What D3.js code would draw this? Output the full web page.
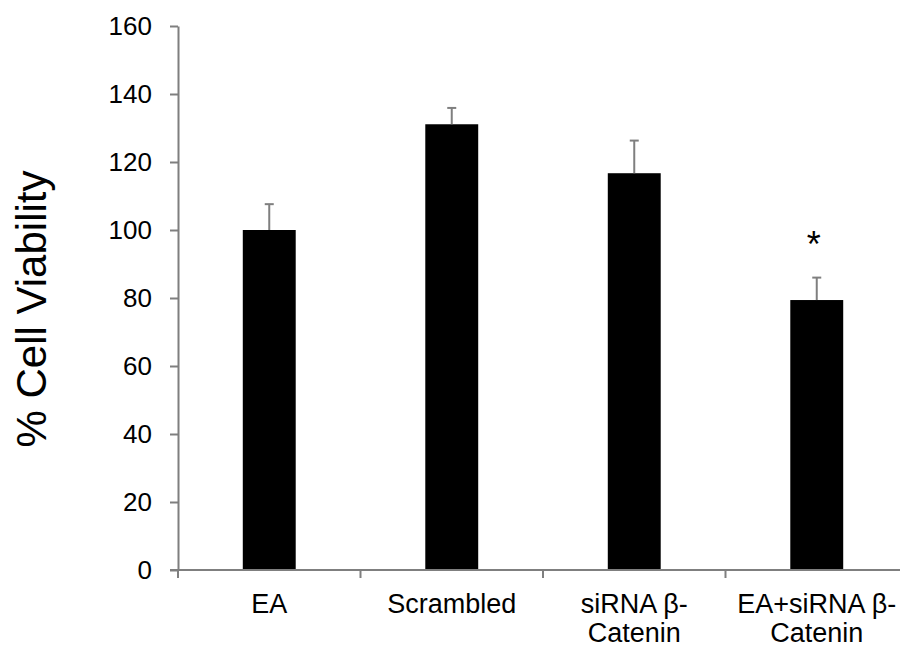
<!DOCTYPE html>
<html>
<head>
<meta charset="utf-8">
<script src="https://cdn.jsdelivr.net/npm/d3@7"></script>
<style>
  body { margin: 0; background: #fff; }
  text { font-family: "Liberation Sans", Arial, sans-serif; fill: #000; }
</style>
</head>
<body>
<div id="chart"></div>
<script>
const categories = ['EA', 'Scrambled', 'siRNA β-\nCatenin', 'EA+siRNA β-\nCatenin'];
const values = [100, 131.1, 116.7, 79.4];
const errors = [7.6, 4.8, 9.6, 6.6];
const significant = [false, false, false, true];
const yTicks = [0, 20, 40, 60, 80, 100, 120, 140, 160];

const width = 900;
const height = 646;
const axisColor = '#7f7f7f';

const svg = d3.select('#chart')
  .append('svg')
  .attr('width', width)
  .attr('height', height)
  .attr('viewBox', [0, 0, width, height]);

const x = d3.scaleBand()
  .domain(categories)
  .range([178, 908]);

const y = d3.scaleLinear()
  .domain([0, 160])
  .range([570, 26]);

const barW = x.bandwidth() * 0.29;
const cx = d => x(d) + x.bandwidth() / 2;

// bars
svg.selectAll('rect.bar')
  .data(categories)
  .enter()
  .append('rect')
  .attr('class', 'bar')
  .attr('x', d => cx(d) - barW / 2)
  .attr('y', (d, i) => y(values[i]))
  .attr('width', barW)
  .attr('height', (d, i) => y(0) - y(values[i]))
  .attr('fill', '#000');

// error bars (upper only)
const err = svg.selectAll('g.err')
  .data(categories)
  .enter()
  .append('g')
  .attr('class', 'err')
  .attr('stroke', axisColor)
  .attr('stroke-width', 2);
err.append('line')
  .attr('x1', cx)
  .attr('x2', cx)
  .attr('y1', (d, i) => y(values[i]))
  .attr('y2', (d, i) => y(values[i] + errors[i]));
err.append('line')
  .attr('x1', d => cx(d) - 4.5)
  .attr('x2', d => cx(d) + 4.5)
  .attr('y1', (d, i) => y(values[i] + errors[i]))
  .attr('y2', (d, i) => y(values[i] + errors[i]));

// significance star
categories.forEach((d, i) => {
  if (!significant[i]) return;
  svg.append('text')
    .attr('x', cx(d) - 3)
    .attr('y', y(values[i] + errors[i]) - 21)
    .attr('text-anchor', 'middle')
    .style('font-size', '36px')
    .text('*');
});

// y axis
const yAxis = svg.append('g')
  .attr('transform', 'translate(178,0)')
  .call(d3.axisLeft(y).tickValues(yTicks).tickSize(8).tickPadding(18).tickSizeOuter(0));
yAxis.select('.domain').attr('stroke', axisColor).attr('stroke-width', 2);
yAxis.selectAll('.tick line').attr('stroke', axisColor).attr('stroke-width', 2);
yAxis.selectAll('.tick text')
  .style('font-size', '26px')
  .style('font-family', '"Liberation Sans", Arial, sans-serif')
  .attr('fill', '#000');

// x axis line and boundary ticks
svg.append('line')
  .attr('x1', 170).attr('x2', width)
  .attr('y1', y(0)).attr('y2', y(0))
  .attr('stroke', axisColor).attr('stroke-width', 2);
svg.selectAll('line.xtick')
  .data(categories)
  .enter()
  .append('line')
  .attr('class', 'xtick')
  .attr('x1', d => x(d)).attr('x2', d => x(d))
  .attr('y1', y(0)).attr('y2', y(0) + 8)
  .attr('stroke', axisColor).attr('stroke-width', 2);

// category labels
const labels = svg.selectAll('text.cat')
  .data(categories)
  .enter()
  .append('text')
  .attr('class', 'cat')
  .attr('text-anchor', 'middle')
  .style('font-size', '27px');
labels.selectAll('tspan')
  .data(d => d.split('\n').map(t => ({ t, c: d })))
  .enter()
  .append('tspan')
  .attr('x', d => cx(d.c))
  .attr('y', (d, i) => 613 + i * 29)
  .text(d => d.t);

// y title
svg.append('text')
  .attr('transform', 'translate(46,309) rotate(-90)')
  .attr('text-anchor', 'middle')
  .style('font-size', '42px')
  .text('% Cell Viability');
</script>
</body>
</html>
